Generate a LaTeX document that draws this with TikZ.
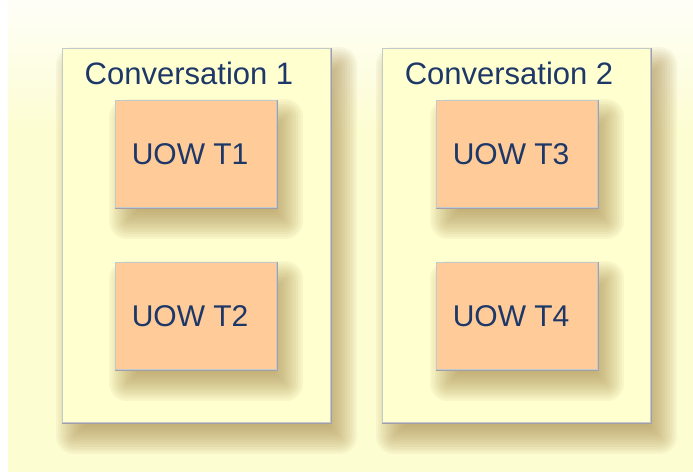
\documentclass[tikz,border=0pt]{standalone}
\usepackage{fontspec}
\setmainfont{Liberation Sans}
\definecolor{bgtop}{HTML}{FEFEF8}
\definecolor{bgyellow}{HTML}{FDFDD2}
\definecolor{convfill}{HTML}{FFFFD0}
\definecolor{uowfill}{HTML}{FFCB98}
\definecolor{boxlight}{HTML}{C2CACC}
\definecolor{boxdark}{HTML}{A49EA8}
\definecolor{textblue}{HTML}{1D3868}
\definecolor{shadowc}{HTML}{A08040}
\pgfdeclarelayer{bg}
\pgfdeclarelayer{convlayer}
\pgfdeclarelayer{uowshadow}
\pgfsetlayers{bg,convlayer,uowshadow,main}
% soft shadow under a named node
\newcommand\softshadow[1]{%
  \foreach \k in {0,...,13}{%
    \pgfmathsetmacro\r{16-32*\k/13}
    \pgfmathsetmacro\rc{max(\r+2,1)}
    \fill[shadowc, opacity=0.065, rounded corners=\rc pt]
      ([shift={(10-\r,15-\r)}]#1.north west) rectangle ([shift={(10+\r,15+\r)}]#1.south east);
  }}
\begin{document}
\begin{tikzpicture}[x=1pt,y=-1pt,
  convbox/.style={draw=boxlight, line width=1.2pt, fill=convfill, anchor=north west,
    minimum width=268pt, minimum height=374pt, inner sep=0pt},
  uowbox/.style={draw=boxlight, line width=1.2pt, fill=uowfill, anchor=north west,
    minimum width=161pt, minimum height=107pt, inner sep=0pt,
    text=textblue, font=\fontsize{30}{36}\selectfont,
    execute at begin node={\hspace*{-12pt}}},
  title/.style={anchor=base, text=textblue, inner sep=0pt, font=\fontsize{31}{36}\selectfont},
  darkedge/.style={draw=boxdark, line width=1.2pt}]
% background
\begin{pgfonlayer}{bg}
\fill[white] (0,0) rectangle (693,472);
\shade[top color=bgtop, bottom color=bgyellow] (8,0) rectangle (693,130);
\fill[bgyellow] (8,129) rectangle (693,472);
\end{pgfonlayer}
% conversations
\begin{pgfonlayer}{convlayer}
\node[convbox] (conv1) at (62,48) {};
\node[convbox] (conv2) at (382,48) {};
\foreach \n in {conv1,conv2}
  \draw[darkedge] (\n.north east) -- (\n.south east) -- (\n.south west);
\node[title] (conv1title) at (189,84) {Conversation 1};
\node[title] (conv2title) at (509,84) {Conversation 2};
\end{pgfonlayer}
% units of work
\node[uowbox] (t1) at (115,100) {UOW T1};
\node[uowbox] (t2) at (115,262) {UOW T2};
\node[uowbox] (t3) at (436,100) {UOW T3};
\node[uowbox] (t4) at (436,262) {UOW T4};
\foreach \n in {t1,t2,t3,t4}
  \draw[darkedge] (\n.north east) -- (\n.south east) -- (\n.south west);
% shadows
\begin{pgfonlayer}{bg}
\softshadow{conv1}
\softshadow{conv2}
\end{pgfonlayer}
\begin{pgfonlayer}{uowshadow}
\softshadow{t1}
\softshadow{t2}
\softshadow{t3}
\softshadow{t4}
\end{pgfonlayer}
\useasboundingbox (0,0) rectangle (693,472);
\end{tikzpicture}
\end{document}
